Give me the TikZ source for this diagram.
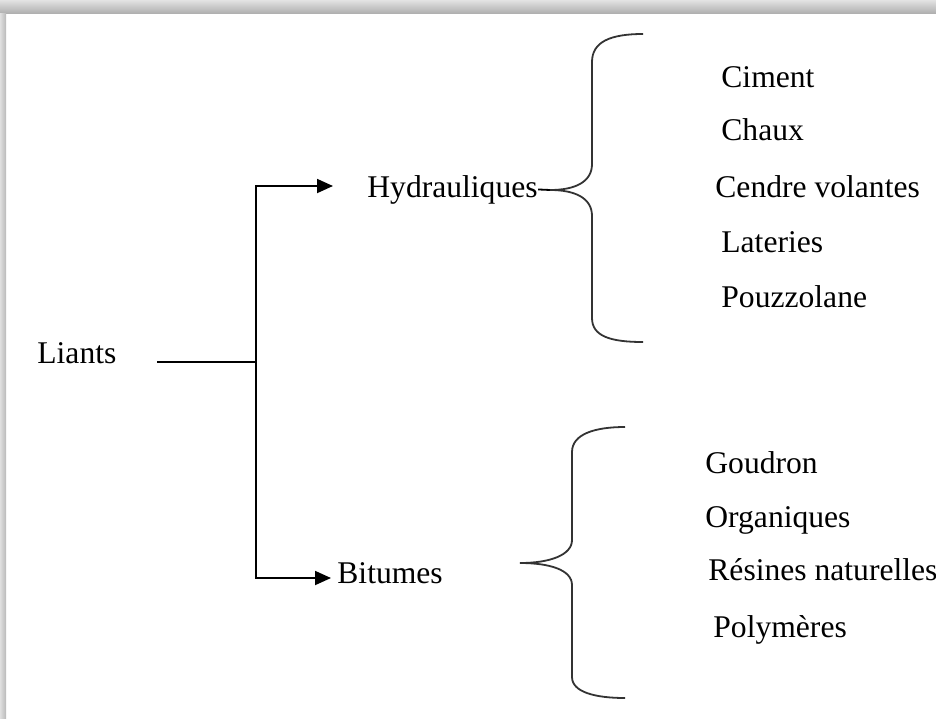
\documentclass[tikz,border=0pt]{standalone}
\usepackage{fontspec}
\setmainfont{Liberation Serif}
\usetikzlibrary{arrows.meta}
\begin{document}
\begin{tikzpicture}[x=0.5pt,y=-0.5pt,
  lbl/.style={anchor=base west, inner sep=0pt, font=\rmfamily\fontsize{15.8}{18}\selectfont},
  link/.style={line width=0.9pt, line cap=rect},
  arr/.style={line width=0.9pt, -{Triangle[length=8pt,width=7pt]}},
  brace/.style={line width=0.9pt, draw=black!80}]
\useasboundingbox (0,0) rectangle (936,718);
\fill[white] (0,0) rectangle (936,718);
% page edge shadow
\shade[top color=gray!22, bottom color=gray!62] (0,0) rectangle (936,13);
\shade[left color=gray!25, right color=gray!55] (0,13) rectangle (6,718);

% labels
\node[lbl] (liants) at (37,363) {Liants};
\node[lbl] (hyd) at (367,197) {Hydrauliques};
\node[lbl] (bit) at (337,583) {Bitumes};

\node[lbl] (ciment) at (721,87) {Ciment};
\node[lbl] (chaux) at (721,140) {Chaux};
\node[lbl] (cendre) at (715,197) {Cendre volantes};
\node[lbl] (lateries) at (721,252) {Lateries};
\node[lbl] (pouzz) at (721,307) {Pouzzolane};

\node[lbl] (goudron) at (705,473) {Goudron};
\node[lbl] (organ) at (705,527) {Organiques};
\node[lbl] (resines) at (708,580) {Résines naturelles};
\node[lbl] (polym) at (713,637) {Polymères};

% tree connectors
\coordinate (lstart) at (158,362);
\coordinate (jmid) at (256,362);
\coordinate (jtop) at (256,186);
\coordinate (jbot) at (256,578);
\coordinate (atop) at (333,186);
\coordinate (abot) at (331,578);
\draw[link] (lstart) -- (jmid);
\draw[link] (jtop) -- (jbot);
\draw[arr] (jtop) -- (atop);
\draw[arr] (jbot) -- (abot);

% upper brace
\coordinate (tipH) at (550,190);
\draw[link, line cap=butt] (hyd.east) -- (tipH);
\draw[brace] (643,34) .. controls (610,34) and (592,42) .. (592,62)
  -- (592,164) .. controls (592,182) and (575,190) .. (tipH)
  .. controls (575,190) and (592,198) .. (592,216)
  -- (592,318) .. controls (592,336) and (610,342) .. (643,342);

% lower brace
\coordinate (tipB) at (520,563);
\draw[brace] (625,427) .. controls (595,427) and (572,434) .. (572,452)
  -- (572,540) .. controls (572,555) and (550,563) .. (tipB)
  .. controls (550,563) and (572,570) .. (572,585)
  -- (572,677) .. controls (572,692) and (595,698) .. (625,698);
\end{tikzpicture}
\end{document}
